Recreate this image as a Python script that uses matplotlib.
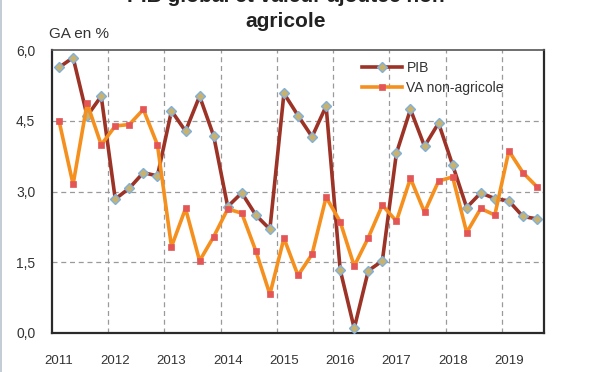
import numpy as np
import matplotlib
matplotlib.use("Agg")
import matplotlib.pyplot as plt
from matplotlib.patches import Rectangle

# ---- data (quarterly, 2011Q1 .. 2019Q3) ----
years = ["2011", "2012", "2013", "2014", "2015", "2016", "2017", "2018", "2019"]
pib = [5.63, 5.84, 4.60, 5.02,
       2.84, 3.07, 3.40, 3.33,
       4.71, 4.28, 5.02, 4.18,
       2.68, 2.97, 2.50, 2.20,
       5.08, 4.61, 4.16, 4.81,
       1.34, 0.10, 1.32, 1.53,
       3.81, 4.74, 3.96, 4.45,
       3.56, 2.66, 2.97, 2.85,
       2.80, 2.47, 2.42]
va_nonagri = [4.50, 3.15, 4.87, 3.99,
              4.39, 4.42, 4.74, 3.99,
              1.83, 2.64, 1.53, 2.04,
              2.63, 2.54, 1.74, 0.82,
              2.01, 1.22, 1.67, 2.88,
              2.36, 1.42, 2.02, 2.71,
              2.37, 3.28, 2.56, 3.22,
              3.31, 2.13, 2.64, 2.50,
              3.86, 3.40, 3.10]
yticks = [0.0, 1.5, 3.0, 4.5, 6.0]
ytick_labels = ["0,0", "1,5", "3,0", "4,5", "6,0"]
series_labels = ["PIB", "VA non-agricole"]
title_lines = ["PIB global et valeur ajoutée non", "agricole"]
ylabel = "GA en %"

plt.rcParams['font.family'] = ['Liberation Sans', 'DejaVu Sans']

W, H = 600, 372
fig = plt.figure(figsize=(W / 100, H / 100), dpi=100)
fig.patch.set_facecolor("white")
ax = fig.add_axes([52 / W, 1 - 333 / H, (544 - 52) / W, (333 - 50) / H])

x = np.arange(len(pib))
ax.set_xlim(-0.5, len(pib) - 0.5)
ax.set_ylim(0, 6.0)

# grid
for b in np.arange(3.5, len(pib) - 1, 4):
    ax.axvline(b, color="#9a9a9a", lw=0.9, ls=(0, (4, 3)), zorder=0)
for yv in yticks[1:-1]:
    ax.axhline(yv, color="#9a9a9a", lw=0.9, ls=(0, (4, 3)), zorder=0)

l1, = ax.plot(x, pib, color="#9c3326", lw=2.6, marker="D", ms=5,
              mfc="#c9b26e", mec="#7fb0dc", mew=1.0, zorder=3, label=series_labels[0])
l2, = ax.plot(x, va_nonagri, color="#f5901e", lw=2.6, marker="s", ms=5,
              mfc="#e45656", mec="#e45656", mew=0.5, zorder=4, label=series_labels[1])

ax.set_xticks(x[::4])
ax.set_xticklabels(years, fontsize=9.5, color="#333333")
ax.set_yticks(yticks)
ax.set_yticklabels(ytick_labels, fontsize=10, color="#333333")
ax.tick_params(axis="x", length=0, pad=16)
ax.tick_params(axis="y", length=0, pad=12)

for s in ["left", "bottom", "right"]:
    ax.spines[s].set_color("#2a2a2a")
    ax.spines[s].set_linewidth(1.6)
ax.spines["top"].set_color("#555555")
ax.spines["top"].set_linewidth(1.2)

leg = ax.legend(handles=[l1, l2], loc="upper left",
                bbox_to_anchor=(362 / W, 1 - 61 / H), bbox_transform=fig.transFigure,
                frameon=False, fontsize=10, handlelength=2.9, handletextpad=0.3,
                labelspacing=0.45, borderpad=0, borderaxespad=0)
for t in leg.get_texts():
    t.set_color("#333333")

# titles (first line is cropped by the top edge, as in the reference)
fig.text(286 / W, 1 - 2.5 / H, title_lines[0], ha="center", va="baseline",
         fontsize=15, fontweight="bold", color="#222222")
fig.text(286 / W, 1 - 27 / H, title_lines[1], ha="center", va="baseline",
         fontsize=15, fontweight="bold", color="#222222")
fig.text(49 / W, 1 - 38 / H, ylabel, ha="left", va="baseline",
         fontsize=11, color="#333333")

# thin light border at the very left edge
fig.patches.append(Rectangle((0, 0), 2 / W, 1, transform=fig.transFigure,
                             facecolor="#c5ccd6", edgecolor="none"))

fig.savefig("out.png", dpi=100)
